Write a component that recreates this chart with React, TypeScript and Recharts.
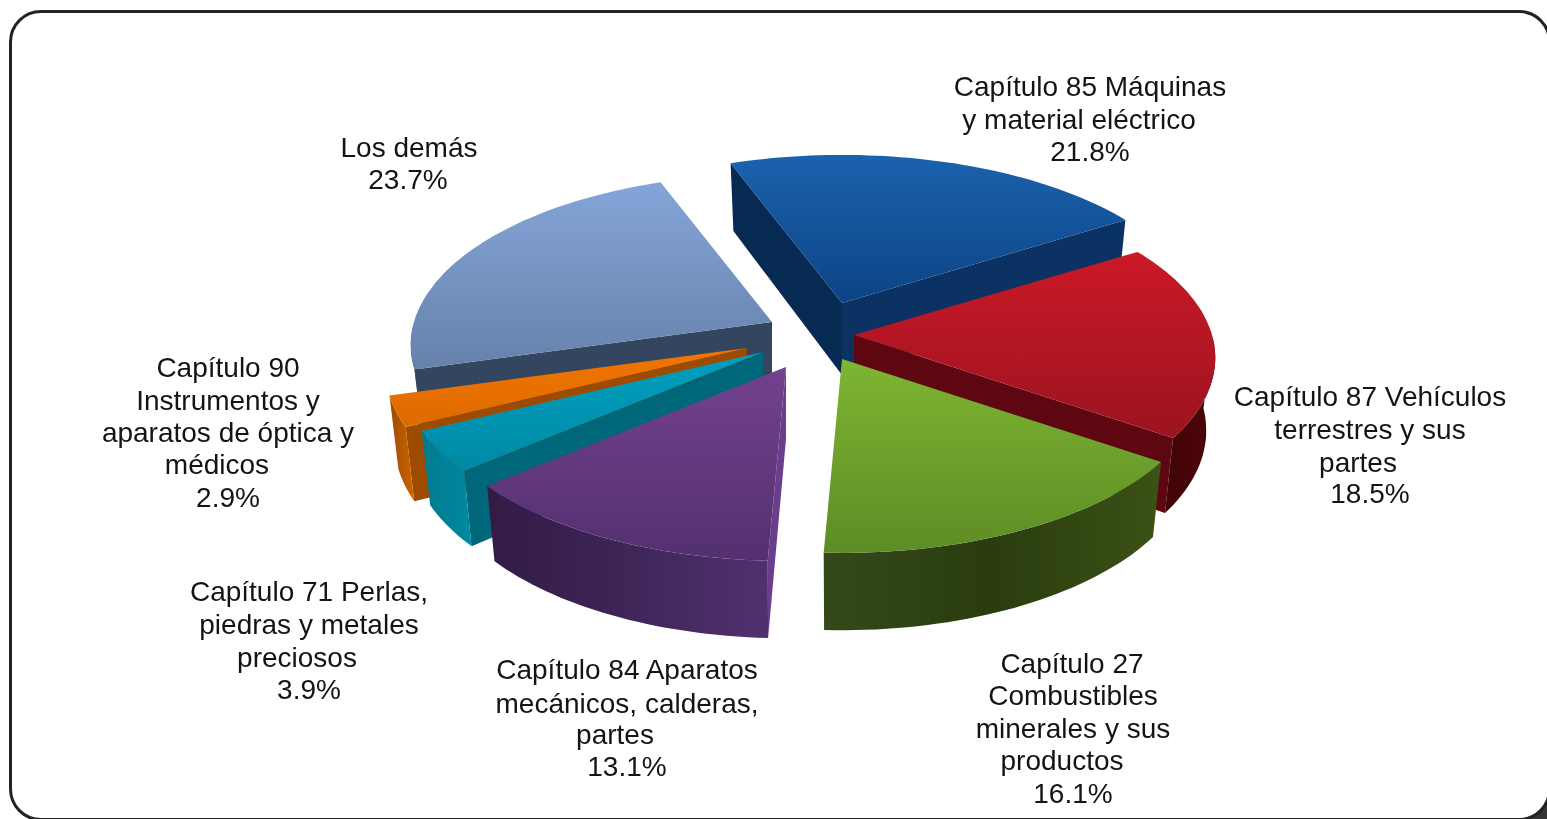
import React from "react";
import { PieChart, Pie } from "recharts";

// ---- data
const categories = ["blue", "red", "green", "purple", "teal", "orange", "other"];
const values = [21.8, 18.5, 16.1, 13.1, 3.9, 2.9, 23.7];
const percentLabels = ["21.8%", "18.5%", "16.1%", "13.1%", "3.9%", "2.9%", "23.7%"];
const nameLines = [
  ["Capítulo 85 Máquinas", "y material eléctrico"],
  ["Capítulo 87 Vehículos", "terrestres y sus", "partes"],
  ["Capítulo 27", "Combustibles", "minerales y sus", "productos"],
  ["Capítulo 84 Aparatos", "mecánicos, calderas,", "partes"],
  ["Capítulo 71 Perlas,", "piedras y metales", "preciosos"],
  ["Capítulo 90", "Instrumentos y", "aparatos de óptica y", "médicos"],
  ["Los demás"],
];

// ---- layout and style
const W = 1547;
const H = 819;
const CX = 800;
const CY = 335;
const R = 358;
const START = 110.5;
const TILT = 0.469;
const PERSP = 0.134;
const DEPTH = 72;
const BASE_SHRINK = 0.975;
const FONT = '"Liberation Sans", Arial, sans-serif';

const explode: Record<string, [number, number]> = {
  blue: [42, -32],
  red: [54, 0],
  green: [42, 24],
  purple: [-14, 32],
  teal: [-37, 17],
  orange: [-53, 13],
  other: [-28, -13],
};
const paint: Record<string, { top: [string, string]; start: string; end: string; outer: string[] }> = {
  blue: { top: ["#1b62ad", "#0c4485"], start: "#072a52", end: "#0c3163", outer: ["#0c3163", "#0c3163"] },
  red: { top: ["#cb1927", "#9b131f"], start: "#5a0610", end: "#5f0711", outer: ["#4c050b", "#400407"] },
  green: { top: ["#7eb533", "#5d8c25"], start: "#2e4210", end: "#2e4210", outer: ["#3c5216", "#2a3c0e", "#34491a"] },
  purple: { top: ["#73418f", "#53306f"], start: "#6a3d8d", end: "#3d2455", outer: ["#523070", "#3f2558", "#321b45"] },
  teal: { top: ["#00a0bf", "#0089a5"], start: "#00677b", end: "#00677b", outer: ["#008a9f", "#007a90"] },
  orange: { top: ["#f27600", "#dd6a00"], start: "#9c4b00", end: "#9c4b00", outer: ["#d06500", "#9c4b00"] },
  other: { top: ["#85a4d8", "#6682ab"], start: "#34465f", end: "#34465f", outer: ["#34465f", "#34465f"] },
};
const labelLayout: Record<string, { x: number; y: number }[]> = {
  blue: [{ x: 1090, y: 87 }, { x: 1079, y: 120 }, { x: 1090, y: 152 }],
  red: [{ x: 1370, y: 397 }, { x: 1370, y: 430 }, { x: 1358, y: 463 }, { x: 1370, y: 494 }],
  green: [{ x: 1072, y: 664 }, { x: 1073, y: 696 }, { x: 1073, y: 729 }, { x: 1062, y: 761 }, { x: 1073, y: 794 }],
  purple: [{ x: 627, y: 670 }, { x: 627, y: 704 }, { x: 615, y: 735 }, { x: 627, y: 767 }],
  teal: [{ x: 309, y: 592 }, { x: 309, y: 625 }, { x: 297, y: 658 }, { x: 309, y: 690 }],
  orange: [{ x: 228, y: 368 }, { x: 228, y: 401 }, { x: 228, y: 433 }, { x: 217, y: 465 }, { x: 228, y: 498 }],
  other: [{ x: 409, y: 148 }, { x: 408, y: 180 }],
};
const backLayer = ["blue", "red"];

const rowsClockwise = categories.map((id, i) => ({
  id,
  value: values[i],
  lines: [...nameLines[i], percentLabels[i]],
}));
const rowsReverse = [...rowsClockwise].reverse();

type Pt = { x: number; y: number };

function project(thetaDeg: number, r: number, cx: number, cy: number, base: boolean): Pt {
  const t = (thetaDeg * Math.PI) / 180;
  const X = r * Math.sin(t);
  const Y = -r * Math.cos(t);
  const p = 1 / (1 - (Y / r) * PERSP);
  const shrink = base ? BASE_SHRINK : 1;
  return {
    x: cx + X * p * shrink,
    y: cy + Y * TILT * p + (base ? DEPTH * Math.sqrt(p) : 0),
  };
}

const toPath = (pts: Pt[]) =>
  pts.map((q, i) => `${i ? "L" : "M"}${q.x.toFixed(1)} ${q.y.toFixed(1)}`).join(" ") + " Z";

function SliceShape(props: any, layer: "back" | "front") {
  const id: string = props.payload?.id ?? props.id;
  const inBack = backLayer.includes(id);
  if ((layer === "back") !== inBack) return <g />;
  const [ox, oy] = explode[id];
  const c = paint[id];
  const cx = props.cx + ox;
  const cy = props.cy + oy;
  const r = props.outerRadius;
  const a1 = Math.max(props.startAngle, props.endAngle);
  const a2 = Math.min(props.startAngle, props.endAngle);
  const t1 = 90 - a1;
  const t2 = 90 - a2;
  const n = Math.max(4, Math.ceil((t2 - t1) / 1.5));
  const thetas = Array.from({ length: n + 1 }, (_, i) => t1 + ((t2 - t1) * i) / n);
  const top = thetas.map((t) => project(t, r, cx, cy, false));
  const bottom = thetas.map((t) => project(t, r, cx, cy, true));
  const apex = { x: cx, y: cy };
  const apexB = { x: cx, y: cy + DEPTH };
  const first = top[0];
  const last = top[n];

  const outerTop: Pt[] = [];
  const outerBottom: Pt[] = [];
  for (let i = 0; i <= n; i++) {
    const t = ((thetas[i] % 360) + 360) % 360;
    if (t >= 90 && t <= 270) {
      outerTop.push(top[i]);
      outerBottom.push(bottom[i]);
    }
  }
  return (
    <g>
      <defs>
        <linearGradient id={`top-${id}`} x1="0" y1="0" x2="0" y2="1">
          <stop offset="0%" stopColor={c.top[0]} />
          <stop offset="100%" stopColor={c.top[1]} />
        </linearGradient>
        <linearGradient id={`outer-${id}`} x1="1" y1="0" x2="0" y2="0">
          {c.outer.map((col, i) => (
            <stop key={i} offset={`${(i / (c.outer.length - 1)) * 100}%`} stopColor={col} />
          ))}
        </linearGradient>
      </defs>
      {first.x < apex.x && <path d={toPath([apex, first, bottom[0], apexB])} fill={c.start} />}
      {apex.x < last.x && <path d={toPath([last, apex, apexB, bottom[n]])} fill={c.end} />}
      {outerTop.length > 1 && (
        <path d={toPath([...outerTop, ...[...outerBottom].reverse()])} fill={`url(#outer-${id})`} />
      )}
      <path d={toPath([apex, ...top])} fill={`url(#top-${id})`} />
    </g>
  );
}

function SliceLabel(props: any) {
  const row = props.payload ?? props;
  const place = labelLayout[row.id];
  return (
    <g>
      {row.lines.map((line: string, i: number) => (
        <text
          key={i}
          x={place[i].x}
          y={place[i].y + 9}
          textAnchor="middle"
          fontFamily={FONT}
          fontSize={28}
          fill="#141414"
        >
          {line}
        </text>
      ))}
    </g>
  );
}

export default function App() {
  return (
    <div style={{ position: "absolute", left: 0, top: 0, width: W, height: H, overflow: "hidden", background: "#fff" }}>
      <div style={{ position: "absolute", left: 1512, top: 784, width: 40, height: 40, background: "#333", filter: "blur(2px)" }} />
      <div
        style={{
          position: "absolute",
          left: 9,
          top: 10,
          width: 1542,
          height: 811,
          background: "#fff",
          border: "3px solid #222",
          borderRadius: 32,
          boxSizing: "border-box",
          filter: "blur(0.6px)",
        }}
      />
      <div style={{ position: "absolute", left: 0, top: 0, filter: "blur(0.5px)" }}>
        <PieChart width={W} height={H} margin={{ top: 0, right: 0, bottom: 0, left: 0 }}>
          <Pie
            data={rowsClockwise}
            dataKey="value"
            nameKey="id"
            cx={CX}
            cy={CY}
            innerRadius={0}
            outerRadius={R}
            startAngle={START}
            endAngle={START - 360}
            stroke="none"
            isAnimationActive={false}
            shape={(p: any) => SliceShape(p, "back")}
          />
          <Pie
            data={rowsReverse}
            dataKey="value"
            nameKey="id"
            cx={CX}
            cy={CY}
            innerRadius={0}
            outerRadius={R}
            startAngle={START}
            endAngle={START + 360}
            stroke="none"
            isAnimationActive={false}
            labelLine={false}
            label={SliceLabel}
            shape={(p: any) => SliceShape(p, "front")}
          />
        </PieChart>
      </div>
    </div>
  );
}
